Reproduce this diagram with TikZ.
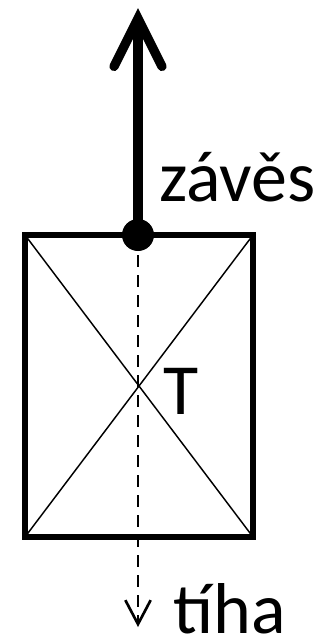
\documentclass[tikz,border=0pt]{standalone}
\usepackage{fontspec}
\setmainfont{Carlito}
\usetikzlibrary{arrows.meta}

\begin{document}
\begin{tikzpicture}[x=0.75pt,y=-0.75pt,
 font=\fontsize{54}{60}\selectfont,
 frame/.style={line width=4.5pt},
 cross/.style={line width=1.1pt},
 pull/.style={line width=7pt,-{Straight Barb[length=36pt,width=36pt,line cap=round]}},
 weight/.style={line width=2pt,dash pattern=on 9pt off 6pt,-{Straight Barb[length=18pt,width=19pt]}},
 dot/.style={circle,fill,inner sep=0pt,minimum size=24pt}]
\useasboundingbox (0,0) rectangle (328,640);
\coordinate (tl) at (25,235);
\coordinate (br) at (253,537);
\coordinate (tr) at (253,235);
\coordinate (bl) at (25,537);
\coordinate (top) at (138,8);
\coordinate (bot) at (138,627);
\draw[cross] (tl) -- (br) (tr) -- (bl);
\draw[frame] (tl) rectangle (br);
\node[dot] (hook) at (138,235) {};
\draw[weight] (hook.center) -- (bot);
\draw[pull] (hook.center) -- (top);
\node[anchor=base west,inner sep=0pt] (zaves) at (159,201) {závěs};
\node[anchor=base west,inner sep=0pt] (T) at (163,414) {T};
\node[anchor=base west,inner sep=0pt] (tiha) at (173,633) {tíha};
\end{tikzpicture}
\end{document}
